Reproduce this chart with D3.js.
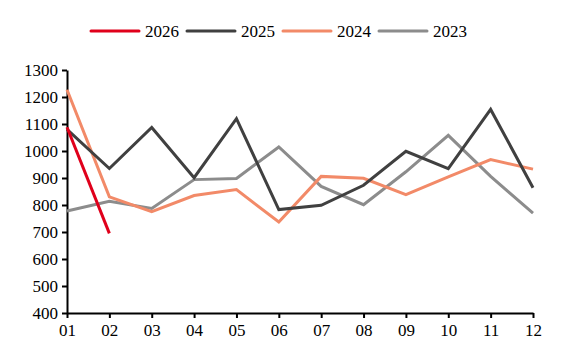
<!DOCTYPE html>
<html>
<head>
<meta charset="utf-8">
<script src="https://cdn.jsdelivr.net/npm/d3@7"></script>
<style>
  body { margin: 0; background: #fff; }
  svg { display: block; font-family: "Liberation Serif", "Times New Roman", serif; }
</style>
</head>
<body>
<svg id="vis" width="563" height="364"></svg>
<script>
var months = ["01","02","03","04","05","06","07","08","09","10","11","12"];
var yTicks = [400,500,600,700,800,900,1000,1100,1200,1300];

var s2026 = [1088, 695];
var s2025 = [1080, 935, 1087, 901, 1120, 783, 799, 873, 999, 935, 1154, 864];
var s2024 = [1227, 830, 775, 835, 857, 737, 906, 899, 838, 904, 968, 933];
var s2023 = [778, 814, 787, 894, 898, 1015, 869, 801, 923, 1058, 906, 770];

var seriesNames = ["2026", "2025", "2024", "2023"];
var seriesColors = ["#e0001b", "#404040", "#f28a68", "#8c8c8c"];

var series = [s2026, s2025, s2024, s2023];

var svg = d3.select("#vis");
var margin = {top: 70, left: 67, right: 30, bottom: 51};
var width = 563 - margin.left - margin.right;
var height = 364 - margin.top - margin.bottom;

var x = d3.scalePoint().domain(months).range([0, 466]);
var y = d3.scaleLinear().domain([400, 1300]).range([height, 0]);

var g = svg.append("g").attr("transform", "translate(" + margin.left + "," + margin.top + ")");

// axes
var yAxis = g.append("g")
    .call(d3.axisLeft(y).tickValues(yTicks).tickFormat(d3.format("d"))
        .tickSize(5).tickPadding(4).tickSizeOuter(0));
var xAxis = g.append("g")
    .attr("transform", "translate(0," + height + ")")
    .call(d3.axisBottom(x).tickSize(5).tickPadding(6).tickSizeOuter(0));

[yAxis, xAxis].forEach(function(a) {
    a.attr("font-family", null).attr("font-size", null);
    a.select(".domain").attr("stroke", "#000").attr("stroke-width", 2);
    a.selectAll(".tick line").attr("stroke", "#000").attr("stroke-width", 2);
    a.selectAll(".tick text").attr("fill", "#000").style("font-size", "17px");
});

// lines, oldest drawn first
var line = d3.line()
    .x(function(d, i) { return x(months[i]); })
    .y(function(d) { return y(d); });

for (var k = series.length - 1; k >= 0; k--) {
    g.append("path")
        .datum(series[k])
        .attr("fill", "none")
        .attr("stroke", seriesColors[k])
        .attr("stroke-width", 3)
        .attr("stroke-linejoin", "miter")
        .attr("d", line);
}

// legend
var legend = svg.append("g").attr("transform", "translate(91,31)");
var item = legend.selectAll("g").data(seriesNames).enter().append("g")
    .attr("transform", function(d, i) { return "translate(" + (i * 96) + ",0)"; });
item.append("line")
    .attr("x1", 0).attr("x2", 48).attr("y1", 0).attr("y2", 0)
    .attr("stroke", function(d, i) { return seriesColors[i]; })
    .attr("stroke-width", 3)
    .attr("stroke-linecap", "round");
item.append("text")
    .attr("x", 54).attr("y", 6)
    .style("font-size", "17px")
    .text(function(d) { return d; });
</script>
</body>
</html>
